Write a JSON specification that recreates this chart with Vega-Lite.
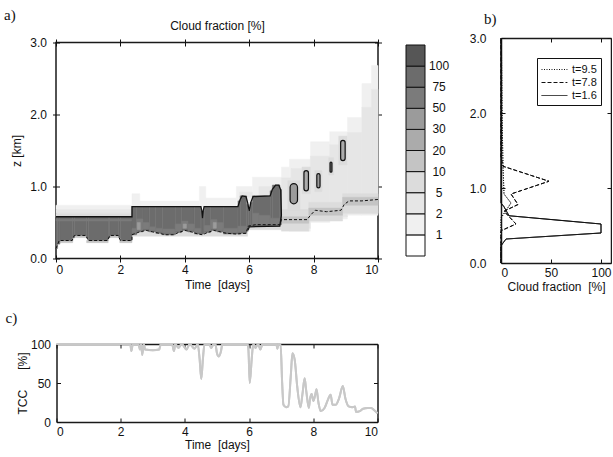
{
  "$schema": "https://vega.github.io/schema/vega-lite/v6.json",
  "padding": {"left": 3, "top": 6, "right": 0, "bottom": 6},
  "background": "white",
  "config": {
    "font": "Liberation Sans",
    "view": {"stroke": "#1a1a1a", "strokeWidth": 1.5},
    "axis": {"labelFont": "Liberation Sans", "labelFontSize": 12, "labelColor": "#111", "titleFont": "Liberation Sans", "titleFontSize": 12, "titleFontWeight": "normal", "titleColor": "#111", "domain": false, "grid": false, "tickColor": "#111", "tickWidth": 1, "zindex": 1},
    "title": {"font": "Liberation Serif", "fontSize": 15, "fontWeight": "normal", "anchor": "start", "frame": "group", "color": "#111"}
  },
  "datasets": {
    "cells": [
      {"t":2.36,"t2":2.6,"z":0.72,"z2":0.9,"c":"1-2"},
      {"t":2.6,"t2":4.45,"z":0.72,"z2":0.8,"c":"1-2"},
      {"t":4.45,"t2":4.65,"z":0.72,"z2":1.0,"c":"1-2"},
      {"t":4.65,"t2":5.6,"z":0.72,"z2":0.84,"c":"1-2"},
      {"t":5.6,"t2":6.1,"z":0.8,"z2":1.0,"c":"1-2"},
      {"t":6.1,"t2":7.0,"z":0.85,"z2":1.13,"c":"1-2"},
      {"t":7.0,"t2":7.25,"z":0.4,"z2":1.27,"c":"1-2"},
      {"t":7.25,"t2":7.9,"z":0.38,"z2":1.38,"c":"1-2"},
      {"t":7.9,"t2":8.5,"z":0.5,"z2":1.62,"c":"1-2"},
      {"t":8.5,"t2":9.05,"z":0.55,"z2":1.76,"c":"1-2"},
      {"t":9.05,"t2":9.5,"z":0.6,"z2":1.96,"c":"1-2"},
      {"t":9.5,"t2":9.8,"z":0.6,"z2":2.43,"c":"1-2"},
      {"t":9.8,"t2":10,"z":0.6,"z2":2.68,"c":"1-2"},
      {"t":0,"t2":2.36,"z":0.68,"z2":0.74,"c":"1-2"},
      {"t":7.0,"t2":7.3,"z":0.42,"z2":1.12,"c":"2-5"},
      {"t":7.3,"t2":7.9,"z":0.42,"z2":1.25,"c":"2-5"},
      {"t":7.9,"t2":8.5,"z":0.52,"z2":1.42,"c":"2-5"},
      {"t":8.5,"t2":9.05,"z":0.58,"z2":1.58,"c":"2-5"},
      {"t":9.05,"t2":9.5,"z":0.62,"z2":1.75,"c":"2-5"},
      {"t":9.5,"t2":9.8,"z":0.62,"z2":2.1,"c":"2-5"},
      {"t":9.8,"t2":10,"z":0.62,"z2":2.35,"c":"2-5"},
      {"t":0,"t2":2.36,"z":0.63,"z2":0.68,"c":"2-5"},
      {"t":6.3,"t2":7.0,"z":0.87,"z2":1.0,"c":"2-5"},
      {"t":5.7,"t2":6.1,"z":0.85,"z2":0.92,"c":"2-5"},
      {"t":7.0,"t2":7.85,"z":0.38,"z2":0.68,"c":"5-10"},
      {"t":7.85,"t2":8.9,"z":0.52,"z2":0.78,"c":"5-10"},
      {"t":8.9,"t2":10,"z":0.63,"z2":0.9,"c":"5-10"},
      {"t":7.2,"t2":7.58,"z":0.68,"z2":1.08,"c":"5-10"},
      {"t":7.64,"t2":7.9,"z":0.9,"z2":1.27,"c":"5-10"},
      {"t":8.04,"t2":8.26,"z":0.93,"z2":1.22,"c":"5-10"},
      {"t":8.47,"t2":8.62,"z":1.16,"z2":1.4,"c":"5-10"},
      {"t":8.78,"t2":9.04,"z":1.3,"z2":1.7,"c":"5-10"},
      {"t":0,"t2":2.36,"z":0.58,"z2":0.63,"c":"5-10"},
      {"t":2.36,"t2":5.95,"z":0.31,"z2":0.4,"c":"5-10"},
      {"t":5.95,"t2":7.0,"z":0.4,"z2":0.47,"c":"5-10"},
      {"t":7.0,"t2":7.85,"z":0.49,"z2":0.58,"c":"10-20"},
      {"t":7.85,"t2":8.9,"z":0.6,"z2":0.7,"c":"10-20"},
      {"t":8.9,"t2":10,"z":0.74,"z2":0.85,"c":"10-20"},
      {"t":0.1,"t2":0.52,"z":0.22,"z2":0.25,"c":"10-20"},
      {"t":0.52,"t2":0.95,"z":0.29,"z2":0.32,"c":"10-20"},
      {"t":0.95,"t2":1.62,"z":0.22,"z2":0.25,"c":"10-20"},
      {"t":1.62,"t2":1.98,"z":0.29,"z2":0.32,"c":"10-20"},
      {"t":1.98,"t2":2.36,"z":0.22,"z2":0.25,"c":"10-20"},
      {"t":0,"t2":0.05,"z":0.14,"z2":0.58,"c":"75-100"},
      {"t":0.05,"t2":0.12,"z":0.2,"z2":0.58,"c":"75-100"},
      {"t":0.12,"t2":0.52,"z":0.25,"z2":0.58,"c":"75-100"},
      {"t":0.52,"t2":0.57,"z":0.285,"z2":0.58,"c":"75-100"},
      {"t":0.57,"t2":0.95,"z":0.32,"z2":0.58,"c":"75-100"},
      {"t":0.95,"t2":1.0,"z":0.285,"z2":0.58,"c":"75-100"},
      {"t":1.0,"t2":1.62,"z":0.25,"z2":0.58,"c":"75-100"},
      {"t":1.62,"t2":1.67,"z":0.285,"z2":0.58,"c":"75-100"},
      {"t":1.67,"t2":1.95,"z":0.32,"z2":0.58,"c":"75-100"},
      {"t":1.95,"t2":2.0,"z":0.285,"z2":0.58,"c":"75-100"},
      {"t":2.0,"t2":2.36,"z":0.25,"z2":0.58,"c":"75-100"},
      {"t":0,"t2":2.36,"z":0.52,"z2":0.545,"c":"50-75"},
      {"t":2.36,"t2":2.5,"z":0.33,"z2":0.72,"c":"75-100"},
      {"t":2.5,"t2":2.7,"z":0.37,"z2":0.72,"c":"75-100"},
      {"t":2.7,"t2":2.9,"z":0.39,"z2":0.72,"c":"75-100"},
      {"t":2.9,"t2":3.1,"z":0.37,"z2":0.72,"c":"75-100"},
      {"t":3.1,"t2":3.3,"z":0.35,"z2":0.72,"c":"75-100"},
      {"t":3.3,"t2":3.7,"z":0.33,"z2":0.72,"c":"75-100"},
      {"t":3.7,"t2":3.9,"z":0.36,"z2":0.72,"c":"75-100"},
      {"t":3.9,"t2":4.1,"z":0.39,"z2":0.72,"c":"75-100"},
      {"t":4.1,"t2":4.3,"z":0.37,"z2":0.72,"c":"75-100"},
      {"t":4.3,"t2":4.5,"z":0.34,"z2":0.72,"c":"75-100"},
      {"t":4.5,"t2":4.53,"z":0.34,"z2":0.66,"c":"75-100"},
      {"t":4.53,"t2":4.57,"z":0.34,"z2":0.56,"c":"75-100"},
      {"t":4.57,"t2":4.6,"z":0.34,"z2":0.66,"c":"75-100"},
      {"t":4.6,"t2":4.8,"z":0.36,"z2":0.72,"c":"75-100"},
      {"t":4.8,"t2":5.0,"z":0.39,"z2":0.72,"c":"75-100"},
      {"t":5.0,"t2":5.2,"z":0.37,"z2":0.72,"c":"75-100"},
      {"t":5.2,"t2":5.65,"z":0.34,"z2":0.72,"c":"75-100"},
      {"t":5.65,"t2":5.72,"z":0.34,"z2":0.8,"c":"75-100"},
      {"t":5.72,"t2":5.92,"z":0.35,"z2":0.87,"c":"75-100"},
      {"t":5.92,"t2":5.97,"z":0.38,"z2":0.75,"c":"75-100"},
      {"t":5.97,"t2":6.03,"z":0.44,"z2":0.66,"c":"75-100"},
      {"t":6.03,"t2":6.1,"z":0.45,"z2":0.78,"c":"75-100"},
      {"t":6.1,"t2":6.65,"z":0.45,"z2":0.87,"c":"75-100"},
      {"t":6.65,"t2":6.72,"z":0.45,"z2":0.94,"c":"75-100"},
      {"t":6.72,"t2":6.95,"z":0.45,"z2":1.02,"c":"75-100"},
      {"t":6.95,"t2":7.0,"z":0.47,"z2":0.96,"c":"75-100"},
      {"t":2.36,"t2":2.5,"z":0.35,"z2":0.42,"c":"50-75"},
      {"t":2.5,"t2":2.7,"z":0.39,"z2":0.55,"c":"50-75"},
      {"t":2.7,"t2":2.9,"z":0.41,"z2":0.5,"c":"50-75"},
      {"t":2.9,"t2":3.1,"z":0.39,"z2":0.44,"c":"50-75"},
      {"t":3.1,"t2":3.3,"z":0.37,"z2":0.42,"c":"50-75"},
      {"t":3.3,"t2":3.7,"z":0.35,"z2":0.41,"c":"50-75"},
      {"t":3.7,"t2":3.9,"z":0.38,"z2":0.48,"c":"50-75"},
      {"t":3.9,"t2":4.1,"z":0.41,"z2":0.52,"c":"50-75"},
      {"t":4.1,"t2":4.3,"z":0.39,"z2":0.48,"c":"50-75"},
      {"t":4.3,"t2":4.5,"z":0.36,"z2":0.42,"c":"50-75"},
      {"t":4.6,"t2":4.8,"z":0.38,"z2":0.46,"c":"50-75"},
      {"t":4.8,"t2":5.0,"z":0.41,"z2":0.54,"c":"50-75"},
      {"t":5.0,"t2":5.2,"z":0.39,"z2":0.5,"c":"50-75"},
      {"t":5.2,"t2":5.65,"z":0.36,"z2":0.42,"c":"50-75"},
      {"t":5.65,"t2":5.92,"z":0.37,"z2":0.45,"c":"50-75"},
      {"t":6.1,"t2":6.3,"z":0.47,"z2":0.63,"c":"50-75"},
      {"t":6.3,"t2":6.65,"z":0.47,"z2":0.6,"c":"50-75"},
      {"t":6.65,"t2":6.95,"z":0.47,"z2":0.56,"c":"50-75"},
      {"t":2.52,"t2":2.62,"z":0.4,"z2":0.5,"c":"30-50"},
      {"t":3.95,"t2":4.05,"z":0.42,"z2":0.48,"c":"30-50"},
      {"t":4.88,"t2":4.98,"z":0.42,"z2":0.5,"c":"30-50"}
    ],
    "blobs": [
      {"t":7.27,"t2":7.5,"z":0.76,"z2":1.04,"c":"30-50"},
      {"t":7.7,"t2":7.84,"z":0.94,"z2":1.22,"c":"20-30"},
      {"t":8.1,"t2":8.2,"z":0.98,"z2":1.18,"c":"30-50"},
      {"t":8.51,"t2":8.57,"z":1.2,"z2":1.34,"c":"50-75"},
      {"t":8.84,"t2":8.98,"z":1.36,"z2":1.64,"c":"20-30"}
    ],
    "topc": [
      {"i":0,"t":0,"z":0.58},{"i":1,"t":2.36,"z":0.58},{"i":2,"t":2.36,"z":0.72},{"i":3,"t":4.5,"z":0.72},
      {"i":4,"t":4.53,"z":0.66},{"i":5,"t":4.55,"z":0.56},{"i":6,"t":4.57,"z":0.66},{"i":7,"t":4.6,"z":0.72},
      {"i":8,"t":5.65,"z":0.72},{"i":9,"t":5.72,"z":0.82},{"i":10,"t":5.78,"z":0.87},{"i":11,"t":5.9,"z":0.86},
      {"i":12,"t":5.95,"z":0.78},{"i":13,"t":6.0,"z":0.66},{"i":14,"t":6.05,"z":0.78},{"i":15,"t":6.12,"z":0.86},
      {"i":16,"t":6.65,"z":0.87},{"i":17,"t":6.72,"z":0.96},{"i":18,"t":6.82,"z":1.02},{"i":19,"t":6.92,"z":1.02},
      {"i":20,"t":6.98,"z":0.95},{"i":21,"t":7.0,"z":0.6},{"i":22,"t":6.95,"z":0.45},{"i":23,"t":6.0,"z":0.44},
      {"i":24,"t":5.97,"z":0.4}
    ],
    "basec": [
      {"i":0,"t":0,"z":0.14},{"i":1,"t":0.1,"z":0.25},{"i":2,"t":0.5,"z":0.25},{"i":3,"t":0.57,"z":0.32},
      {"i":4,"t":0.93,"z":0.32},{"i":5,"t":1.0,"z":0.25},{"i":6,"t":1.6,"z":0.25},{"i":7,"t":1.67,"z":0.32},
      {"i":8,"t":1.93,"z":0.32},{"i":9,"t":2.0,"z":0.25},{"i":10,"t":2.36,"z":0.25},{"i":11,"t":2.36,"z":0.33},
      {"i":12,"t":2.6,"z":0.37},{"i":13,"t":2.8,"z":0.39},{"i":14,"t":3.0,"z":0.37},{"i":15,"t":3.2,"z":0.35},
      {"i":16,"t":3.4,"z":0.33},{"i":17,"t":3.65,"z":0.33},{"i":18,"t":3.8,"z":0.36},{"i":19,"t":4.0,"z":0.39},
      {"i":20,"t":4.2,"z":0.37},{"i":21,"t":4.4,"z":0.34},{"i":22,"t":4.55,"z":0.33},{"i":23,"t":4.7,"z":0.36},
      {"i":24,"t":4.9,"z":0.39},{"i":25,"t":5.1,"z":0.37},{"i":26,"t":5.3,"z":0.35},{"i":27,"t":5.6,"z":0.34},
      {"i":28,"t":5.9,"z":0.35},{"i":29,"t":5.97,"z":0.45},{"i":30,"t":6.2,"z":0.47},{"i":31,"t":6.95,"z":0.47},
      {"i":32,"t":7.0,"z":0.54},{"i":33,"t":7.8,"z":0.54},{"i":34,"t":7.9,"z":0.6},{"i":35,"t":8.05,"z":0.67},
      {"i":36,"t":8.4,"z":0.65},{"i":37,"t":8.85,"z":0.67},{"i":38,"t":8.95,"z":0.75},{"i":39,"t":9.1,"z":0.8},
      {"i":40,"t":9.5,"z":0.8},{"i":41,"t":10,"z":0.82}
    ],
    "bar": [
      {"c":"<1","lo":0,"hi":1,"lab":"1"},
      {"c":"1-2","lo":1,"hi":2,"lab":"2"},
      {"c":"2-5","lo":2,"hi":3,"lab":"5"},
      {"c":"5-10","lo":3,"hi":4,"lab":"10"},
      {"c":"10-20","lo":4,"hi":5,"lab":"20"},
      {"c":"20-30","lo":5,"hi":6,"lab":"30"},
      {"c":"30-50","lo":6,"hi":7,"lab":"50"},
      {"c":"50-75","lo":7,"hi":8,"lab":"75"},
      {"c":"75-100","lo":8,"hi":9,"lab":"100"},
      {"c":"100","lo":9,"hi":10,"lab":""}
    ],
    "prof": [
      {"s":"t=1.6","i":0,"cf":0,"z":0},{"s":"t=1.6","i":1,"cf":0,"z":0.23},{"s":"t=1.6","i":2,"cf":5,"z":0.32},
      {"s":"t=1.6","i":3,"cf":100,"z":0.4},{"s":"t=1.6","i":4,"cf":100,"z":0.52},{"s":"t=1.6","i":5,"cf":8,"z":0.63},
      {"s":"t=1.6","i":6,"cf":3,"z":0.75},{"s":"t=1.6","i":7,"cf":0,"z":0.8},{"s":"t=1.6","i":8,"cf":0,"z":3},
      {"s":"t=7.8","i":0,"cf":0,"z":0},{"s":"t=7.8","i":1,"cf":0,"z":0.43},{"s":"t=7.8","i":2,"cf":15,"z":0.52},
      {"s":"t=7.8","i":3,"cf":3,"z":0.69},{"s":"t=7.8","i":4,"cf":17,"z":0.78},{"s":"t=7.8","i":5,"cf":10,"z":0.92},
      {"s":"t=7.8","i":6,"cf":48,"z":1.09},{"s":"t=7.8","i":7,"cf":2,"z":1.29},{"s":"t=7.8","i":8,"cf":0,"z":1.4},
      {"s":"t=7.8","i":9,"cf":0,"z":3},
      {"s":"t=9.5","i":0,"cf":0,"z":0},{"s":"t=9.5","i":1,"cf":0,"z":0.6},{"s":"t=9.5","i":2,"cf":5,"z":0.7},
      {"s":"t=9.5","i":3,"cf":10,"z":0.8},{"s":"t=9.5","i":4,"cf":3,"z":0.92},{"s":"t=9.5","i":5,"cf":2,"z":1.3},
      {"s":"t=9.5","i":6,"cf":1,"z":2.0},{"s":"t=9.5","i":7,"cf":0.5,"z":2.8},{"s":"t=9.5","i":8,"cf":0,"z":3}
    ],
    "tcc": [
      {"t":0,"v":100},{"t":2.3,"v":100},{"t":2.33,"v":91},{"t":2.38,"v":100},{"t":2.55,"v":100},{"t":2.6,"v":93},
      {"t":2.64,"v":100},{"t":2.67,"v":86},{"t":2.72,"v":100},{"t":2.76,"v":93},{"t":3.0,"v":92},{"t":3.2,"v":93},
      {"t":3.25,"v":100},{"t":3.6,"v":100},{"t":3.66,"v":91},{"t":3.7,"v":100},{"t":3.8,"v":95},{"t":3.9,"v":100},
      {"t":4.05,"v":93},{"t":4.15,"v":100},{"t":4.3,"v":94},{"t":4.4,"v":100},{"t":4.46,"v":80},{"t":4.51,"v":55},
      {"t":4.56,"v":80},{"t":4.61,"v":100},{"t":4.75,"v":100},{"t":4.82,"v":95},{"t":4.9,"v":100},{"t":4.95,"v":100},
      {"t":5.0,"v":88},{"t":5.06,"v":84},{"t":5.12,"v":90},{"t":5.17,"v":100},{"t":5.95,"v":100},{"t":5.98,"v":92},
      {"t":6.02,"v":50},{"t":6.08,"v":80},{"t":6.13,"v":100},{"t":6.2,"v":95},{"t":6.28,"v":100},{"t":6.35,"v":93},
      {"t":6.42,"v":100},{"t":6.85,"v":100},{"t":6.88,"v":94},{"t":6.92,"v":100},{"t":6.98,"v":100},{"t":7.03,"v":50},
      {"t":7.07,"v":22},{"t":7.15,"v":19},{"t":7.22,"v":20},{"t":7.3,"v":60},{"t":7.35,"v":88},{"t":7.42,"v":80},
      {"t":7.5,"v":45},{"t":7.6,"v":19},{"t":7.66,"v":35},{"t":7.73,"v":56},{"t":7.78,"v":40},{"t":7.86,"v":18},
      {"t":7.9,"v":30},{"t":7.95,"v":36},{"t":8.0,"v":27},{"t":8.05,"v":33},{"t":8.1,"v":42},{"t":8.16,"v":25},
      {"t":8.23,"v":14},{"t":8.35,"v":18},{"t":8.45,"v":28},{"t":8.54,"v":35},{"t":8.6,"v":22},{"t":8.7,"v":22},
      {"t":8.8,"v":30},{"t":8.92,"v":46},{"t":9.0,"v":30},{"t":9.1,"v":20},{"t":9.22,"v":19},{"t":9.3,"v":20},
      {"t":9.33,"v":13},{"t":9.45,"v":14},{"t":9.55,"v":17},{"t":9.7,"v":18},{"t":9.8,"v":18},{"t":9.9,"v":15},
      {"t":10,"v":11}
    ]
  },
  "columns": 3,
  "bounds": "flush",
  "align": "each",
  "center": true,
  "spacing": {"row": 81, "column": 28},
  "resolve": {"legend": {"strokeDash": "independent"}},
  "concat": [
    {
      "width": 322, "height": 216,
      "title": {"text": "a)", "dx": -52, "offset": -3},
      "resolve": {"axis": {"x": "independent", "y": "independent"}},
      "layer": [
        {
          "data": {"name": "cells"},
          "mark": {"type": "rect", "strokeWidth": 0.5},
          "encoding": {
            "x": {"field": "t", "type": "quantitative", "scale": {"domain": [0, 10], "nice": false, "zero": false},
                  "axis": {"orient": "bottom", "values": [0, 2, 4, 6, 8, 10], "format": "d", "title": "Time\u00a0 [days]", "offset": -3.5, "tickSize": 7, "labelPadding": 2, "titlePadding": 4}},
            "x2": {"field": "t2"},
            "y": {"field": "z", "type": "quantitative", "scale": {"domain": [0, 3], "nice": false, "zero": false},
                  "axis": {"orient": "left", "values": [0, 1, 2, 3], "format": ".1f", "title": "z [km]", "offset": -3.5, "tickSize": 7, "labelPadding": 6, "titlePadding": 6}},
            "y2": {"field": "z2"},
            "color": {"field": "c", "type": "nominal",
                      "scale": {"domain": ["<1", "1-2", "2-5", "5-10", "10-20", "20-30", "30-50", "50-75", "75-100", "100"],
                                "range": ["#ffffff", "#f0f0f0", "#e6e6e6", "#dcdcdc", "#c4c4c4", "#ababab", "#9b9b9b", "#7b7b7b", "#6c6c6c", "#565656"]},
                      "legend": null},
            "stroke": {"field": "c", "type": "nominal",
                       "scale": {"domain": ["<1", "1-2", "2-5", "5-10", "10-20", "20-30", "30-50", "50-75", "75-100", "100"],
                                 "range": ["#ffffff", "#f0f0f0", "#e6e6e6", "#dcdcdc", "#c4c4c4", "#ababab", "#9b9b9b", "#7b7b7b", "#6c6c6c", "#565656"]},
                       "legend": null}
          }
        },
        {
          "data": {"name": "blobs"},
          "mark": {"type": "rect", "stroke": "#111", "strokeWidth": 1.2, "cornerRadius": 8},
          "encoding": {
            "x": {"field": "t", "type": "quantitative", "axis": {"orient": "top", "values": [0, 2, 4, 6, 8, 10], "labels": false, "title": "Cloud fraction [%]", "offset": -3.5, "tickSize": 7, "titlePadding": 6}},
            "x2": {"field": "t2"},
            "y": {"field": "z", "type": "quantitative", "axis": {"orient": "right", "values": [0, 1, 2, 3], "labels": false, "title": null, "offset": -3.5, "tickSize": 7}},
            "y2": {"field": "z2"},
            "color": {"field": "c", "type": "nominal", "legend": null}
          }
        },
        {
          "data": {"name": "topc"},
          "mark": {"type": "line", "color": "#111", "strokeWidth": 1.3},
          "encoding": {
            "x": {"field": "t", "type": "quantitative", "axis": null},
            "y": {"field": "z", "type": "quantitative", "axis": null},
            "order": {"field": "i"}
          }
        },
        {
          "data": {"name": "basec"},
          "mark": {"type": "line", "color": "#111", "strokeWidth": 1, "strokeDash": [3, 2]},
          "encoding": {
            "x": {"field": "t", "type": "quantitative", "axis": null},
            "y": {"field": "z", "type": "quantitative", "axis": null},
            "order": {"field": "i"}
          }
        }
      ]
    },
    {
      "width": 67, "height": 211,
      "view": {"stroke": null},
      "data": {"name": "bar"},
      "layer": [
        {
          "mark": {"type": "rect", "stroke": "#111", "strokeWidth": 1},
          "encoding": {
            "x": {"datum": 0, "type": "quantitative", "scale": {"domain": [0, 3.526], "nice": false}, "axis": null},
            "x2": {"datum": 1},
            "y": {"field": "lo", "type": "quantitative", "scale": {"domain": [0, 10], "nice": false}, "axis": null},
            "y2": {"field": "hi"},
            "color": {"field": "c", "type": "nominal", "legend": null}
          }
        },
        {
          "transform": [{"filter": "datum.lab != ''"}],
          "mark": {"type": "text", "align": "center", "baseline": "middle", "fontSize": 12, "font": "Liberation Sans", "color": "#111"},
          "encoding": {
            "x": {"datum": 1.74, "type": "quantitative"},
            "y": {"field": "hi", "type": "quantitative"},
            "text": {"field": "lab"}
          }
        }
      ]
    },
    {
      "width": 110, "height": 225,
      "title": {"text": "b)", "dx": -17, "offset": 5},
      "view": {"stroke": null},
      "data": {"name": "prof"},
      "resolve": {"axis": {"x": "independent", "y": "independent"}},
      "layer": [
        {
          "mark": {"type": "line", "color": "#111", "strokeWidth": 1},
          "encoding": {
            "x": {"field": "cf", "type": "quantitative", "scale": {"domain": [0, 110], "nice": false},
                  "axis": {"orient": "bottom", "values": [0, 50, 100], "title": "Cloud fraction\u00a0 [%]", "domain": true, "domainColor": "#1a1a1a", "domainWidth": 1.5, "tickSize": -4, "labelPadding": 8, "titlePadding": 3}},
            "y": {"field": "z", "type": "quantitative", "scale": {"domain": [0, 3], "nice": false},
                  "axis": {"orient": "left", "values": [0, 1, 2, 3], "format": ".1f", "title": null, "domain": true, "domainColor": "#1a1a1a", "domainWidth": 1.5, "tickSize": -4, "labelPadding": 19}},
            "strokeDash": {"field": "s", "type": "nominal",
                           "scale": {"domain": ["t=9.5", "t=7.8", "t=1.6"], "range": [[1, 1.5], [4, 2], [1, 0]]},
                           "legend": {"title": null, "orient": "none", "legendX": 36, "legendY": 20, "strokeColor": "#111", "fillColor": "white", "padding": 4,
                                      "symbolType": "M-1,0H2.7", "symbolSize": 196, "symbolStrokeColor": "#111", "symbolStrokeWidth": 1,
                                      "labelFont": "Liberation Sans", "labelFontSize": 11, "labelColor": "#111", "labelOffset": 16, "rowPadding": 0}},
            "order": {"field": "i"}
          }
        },
        {
          "mark": {"type": "line", "color": "#111", "strokeWidth": 1},
          "encoding": {
            "x": {"field": "cf", "type": "quantitative", "axis": {"orient": "top", "values": [0, 50, 100], "labels": false, "title": null, "domain": true, "domainColor": "#1a1a1a", "domainWidth": 1.5, "tickSize": -4}},
            "y": {"field": "z", "type": "quantitative", "axis": {"orient": "right", "values": [0, 1, 2, 3], "labels": false, "title": null, "domain": true, "domainColor": "#1a1a1a", "domainWidth": 1.5, "tickSize": -4}},
            "strokeDash": {"field": "s", "type": "nominal"},
            "order": {"field": "i"}
          }
        }
      ]
    },
    {
      "width": 321, "height": 78,
      "title": {"text": "c)", "dx": -51, "offset": 12},
      "view": {"stroke": null},
      "data": {"name": "tcc"},
      "resolve": {"axis": {"x": "independent", "y": "independent"}},
      "layer": [
        {
          "mark": {"type": "line", "color": "#c8c8c8", "strokeWidth": 2, "interpolate": "monotone"},
          "encoding": {
            "x": {"field": "t", "type": "quantitative", "scale": {"domain": [0, 10], "nice": false},
                  "axis": {"orient": "bottom", "values": [0, 2, 4, 6, 8, 10], "format": "d", "title": "Time\u00a0 [days]", "domain": true, "domainColor": "#1a1a1a", "domainWidth": 1.5, "tickSize": -4, "labelPadding": 8, "titlePadding": 2}},
            "y": {"field": "v", "type": "quantitative", "scale": {"domain": [0, 100], "nice": false},
                  "axis": {"orient": "left", "values": [0, 50, 100], "title": "TCC\u00a0\u00a0\u00a0\u00a0\u00a0 [%]", "domain": true, "domainColor": "#1a1a1a", "domainWidth": 1.5, "tickSize": -4, "labelPadding": 10, "titlePadding": 1}}
          }
        },
        {
          "mark": {"type": "line", "color": "#c8c8c8", "strokeWidth": 2, "interpolate": "monotone"},
          "encoding": {
            "x": {"field": "t", "type": "quantitative", "axis": {"orient": "top", "values": [0, 2, 4, 6, 8, 10], "labels": false, "title": null, "domain": true, "domainColor": "#1a1a1a", "domainWidth": 1.5, "tickSize": -4}},
            "y": {"field": "v", "type": "quantitative", "axis": {"orient": "right", "values": [0, 50, 100], "labels": false, "title": null, "domain": true, "domainColor": "#1a1a1a", "domainWidth": 1.5, "tickSize": -4}}
          }
        }
      ]
    }
  ]
}
